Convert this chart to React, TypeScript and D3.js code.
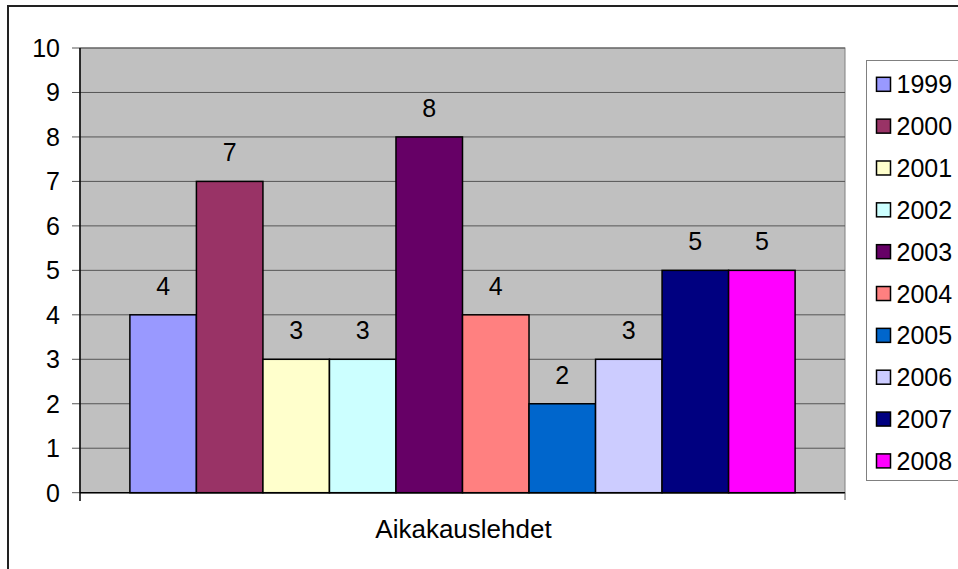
import React from "react";
import * as d3 from "d3";

const years = ["1999", "2000", "2001", "2002", "2003", "2004", "2005", "2006", "2007", "2008"];
const values = [4, 7, 3, 3, 8, 4, 2, 3, 5, 5];
const colors = ["#9999FF", "#993366", "#FFFFCC", "#CCFFFF", "#660066", "#FF8080", "#0066CC", "#CCCCFF", "#000080", "#FF00FF"];
const yTicks = [0, 1, 2, 3, 4, 5, 6, 7, 8, 9, 10];
const category = "Aikakauslehdet";

const W = 958;
const H = 569;
const plot = { left: 80, right: 845, top: 48, bottom: 492.7 };
const font = "'Liberation Sans', Arial, sans-serif";

function App() {
  const y = d3.scaleLinear().domain([0, 10]).range([plot.bottom, plot.top]);
  const x = d3
    .scaleBand<string>()
    .domain(years)
    .range([plot.left, plot.right])
    .paddingInner(0)
    .paddingOuter(0.75);
  const legendY = d3.scalePoint<string>().domain(years).range([84.3, 460.9]);

  return (
    <div style={{ position: "fixed", left: 0, top: 0 }}>
      <svg width={W} height={H} style={{ display: "block", background: "#fff" }} fontFamily={font}>
        {/* chart area border */}
        <rect x={8} y={6} width={W + 10} height={H + 10} fill="#fff" stroke="#222" strokeWidth={2} />

        {/* plot area */}
        <rect x={plot.left} y={plot.top} width={plot.right - plot.left} height={plot.bottom - plot.top} fill="#C0C0C0" stroke="#808080" strokeWidth={1} />

        {yTicks.map((t) => (
          <g key={t}>
            {t > 0 && (
              <line x1={plot.left} x2={plot.right} y1={y(t)} y2={y(t)} stroke="#555" strokeWidth={1} />
            )}
            <line x1={72} x2={plot.left} y1={y(t)} y2={y(t)} stroke="#555" strokeWidth={1} />
            <text x={60} y={y(t)} dy="0.36em" textAnchor="end" fontSize={25} fill="#000">
              {t}
            </text>
          </g>
        ))}

        {/* bars */}
        {years.map((yr, i) => (
          <rect
            key={yr}
            x={x(yr)}
            y={y(values[i])}
            width={x.bandwidth()}
            height={y(0) - y(values[i])}
            fill={colors[i]}
            stroke="#000"
            strokeWidth={1.5}
          />
        ))}

        {years.map((yr, i) => (
          <text
            key={"l" + yr}
            x={(x(yr) as number) + x.bandwidth() / 2}
            y={y(values[i]) - 20}
            textAnchor="middle"
            fontSize={25}
            fill="#000"
          >
            {values[i]}
          </text>
        ))}

        {/* axes */}
        <line x1={plot.left} x2={plot.left} y1={plot.top} y2={501} stroke="#000" strokeWidth={1.5} />
        <line x1={plot.left} x2={plot.right} y1={plot.bottom} y2={plot.bottom} stroke="#000" strokeWidth={1.5} />
        <line x1={plot.right} x2={plot.right} y1={plot.bottom} y2={500} stroke="#555" strokeWidth={1} />

        <text x={463.5} y={538.3} textAnchor="middle" fontSize={26} fill="#000">
          {category}
        </text>

        {/* legend */}
        <rect x={866.5} y={60.5} width={120} height={420} fill="#fff" stroke="#808080" strokeWidth={1} />
        {years.map((yr, i) => (
          <g key={"g" + yr}>
            <rect
              x={876.5}
              y={legendY(yr)! - 7}
              width={14}
              height={14}
              fill={colors[i]}
              stroke="#000"
              strokeWidth={1.5}
            />
            <text x={896.5} y={legendY(yr)} dy="0.36em" fontSize={25} fill="#000">
              {yr}
            </text>
          </g>
        ))}
      </svg>
    </div>
  );
}

export default App;
